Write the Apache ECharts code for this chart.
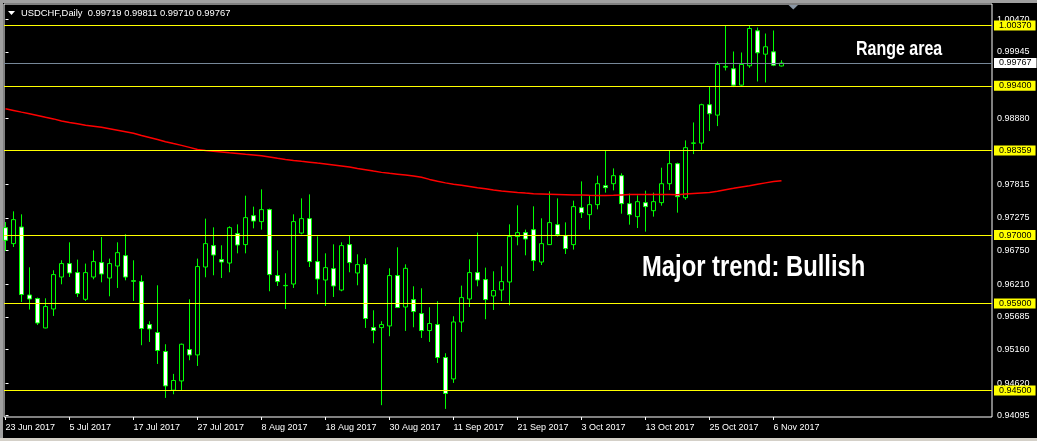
<!DOCTYPE html>
<html><head><meta charset="utf-8">
<script src="https://cdn.jsdelivr.net/npm/echarts@6/dist/echarts.min.js"></script>
<style>html,body{margin:0;padding:0;background:#000;overflow:hidden}#c{width:1037px;height:441px}</style>
</head><body><div id="c"></div>
<script>
// ---- data ----
const xTickIndex = [0, 8, 16, 24, 32, 40, 48, 56, 64, 72, 80, 88, 96];
const xTickLabels = ['23 Jun 2017','5 Jul 2017','17 Jul 2017','27 Jul 2017','8 Aug 2017','18 Aug 2017','30 Aug 2017','11 Sep 2017','21 Sep 2017','3 Oct 2017','13 Oct 2017','25 Oct 2017','6 Nov 2017'];
const yTickValues = [1.00470, 0.99945, 0.98880, 0.97815, 0.97275, 0.96750, 0.96210, 0.95685, 0.95160, 0.94620, 0.94095];
const levels = [1.00370, 0.99400, 0.98359, 0.97000, 0.95900, 0.94500];
const bidPrice = 0.99767;
const titleText = 'USDCHF,Daily  0.99719 0.99811 0.99710 0.99767';

const opens = [0.97119,0.96862,0.97129,0.96036,0.95978,0.95506,0.95811,0.96325,0.96541,0.96396,
0.95967,0.96325,0.96557,0.96309,0.96502,0.96669,0.96265,0.96251,0.95560,0.95432,
0.95127,0.94505,0.94654,0.95159,0.95072,0.96486,0.96830,0.96605,0.96550,0.97023,
0.96846,0.97312,0.97216,0.97409,0.96348,0.96190,0.96213,0.97032,0.97264,0.96573,
0.96277,0.96460,0.96116,0.96846,0.96390,0.96525,0.95512,0.95512,0.95538,0.96348,
0.95843,0.95962,0.95737,0.95464,0.95560,0.95030,0.94686,0.95602,0.95972,0.96396,
0.96284,0.96020,0.96116,0.96245,0.96975,0.97039,0.97087,0.96566,0.96846,0.97167,
0.96991,0.96846,0.97441,0.97328,0.97489,0.97794,0.97826,0.97955,0.97505,0.97296,
0.97521,0.97392,0.97521,0.97826,0.98148,0.97601,0.98475,0.98479,0.99096,0.98929,
0.99700,0.99674,0.99411,0.99722,1.00285,0.99909,0.99947,0.99719];
const closes = [0.96915,0.97248,0.96043,0.95972,0.95586,0.95850,0.96364,0.96541,0.96390,0.96059,
0.96396,0.96573,0.96374,0.96541,0.96717,0.96325,0.96258,0.95496,0.95490,0.95143,
0.94574,0.94661,0.95244,0.95072,0.96493,0.96862,0.96679,0.96566,0.97119,0.96840,
0.97280,0.97225,0.97409,0.96364,0.96251,0.96185,0.97216,0.97264,0.96573,0.96293,
0.96476,0.96181,0.96830,0.96557,0.96525,0.95657,0.95464,0.95560,0.96348,0.95834,
0.96465,0.95769,0.95464,0.95577,0.95030,0.94452,0.95602,0.95994,0.96396,0.96277,
0.95962,0.96107,0.96251,0.96975,0.97039,0.96936,0.96589,0.96862,0.97200,0.97007,
0.96782,0.97457,0.97360,0.97489,0.97826,0.97762,0.97955,0.97505,0.97328,0.97537,
0.97457,0.97537,0.97826,0.98148,0.97617,0.98405,0.98482,0.99096,0.98951,0.99743,
0.99712,0.99411,0.99743,1.00322,0.99931,1.00028,0.99732,0.99767];
const lows = [0.96743,0.96808,0.95924,0.95802,0.95554,0.95500,0.95699,0.96208,0.96325,0.96004,
0.95940,0.96288,0.96240,0.96015,0.96149,0.96272,0.95940,0.95228,0.95281,0.94927,
0.94381,0.94440,0.94494,0.94987,0.94895,0.96321,0.96353,0.96309,0.96401,0.96706,
0.96706,0.97108,0.97087,0.96096,0.96181,0.95811,0.96149,0.97012,0.96486,0.96047,
0.95859,0.96004,0.96096,0.96401,0.96192,0.95506,0.95260,0.94264,0.95373,0.95827,
0.95458,0.95517,0.95345,0.95281,0.94943,0.94204,0.94622,0.95442,0.95843,0.96176,
0.95646,0.95795,0.95940,0.95871,0.96835,0.96674,0.96422,0.96518,0.96840,0.96975,
0.96695,0.96766,0.97274,0.97087,0.97413,0.97682,0.97719,0.97344,0.97167,0.97113,
0.97055,0.97296,0.97473,0.97723,0.97360,0.97569,0.98302,0.98361,0.98672,0.98752,
0.99647,0.99379,0.99401,0.99690,0.99470,0.99454,0.99716,0.99710];
const highs = [0.97209,0.97381,0.97333,0.96481,0.95994,0.95983,0.96433,0.96594,0.96883,0.96605,
0.96541,0.96754,0.96968,0.96621,0.96883,0.97012,0.96594,0.96353,0.95614,0.96192,
0.95244,0.94767,0.95255,0.95967,0.96621,0.97264,0.97124,0.96835,0.97140,0.97172,
0.97633,0.97457,0.97735,0.97425,0.96754,0.96385,0.97333,0.97590,0.97654,0.96979,
0.96706,0.96851,0.96883,0.96984,0.96690,0.96626,0.95790,0.95614,0.96465,0.96803,
0.96529,0.96176,0.96144,0.95839,0.95935,0.95099,0.95694,0.96187,0.96610,0.97039,
0.96476,0.96417,0.96497,0.97172,0.97478,0.97087,0.97462,0.97269,0.97703,0.97590,
0.97204,0.97553,0.97863,0.97627,0.97955,0.98361,0.98072,0.97992,0.97666,0.97638,
0.97714,0.97682,0.98083,0.98361,0.98164,0.98522,0.98811,0.99112,0.99390,0.99787,
1.00370,0.99952,0.99936,1.00370,1.00338,1.00241,1.00290,0.99811];
const movingAvg = [0.99031,0.99004,0.98977,0.98951,0.98924,0.98895,0.98868,0.98835,0.98811,0.98790,
0.98766,0.98750,0.98733,0.98710,0.98686,0.98662,0.98638,0.98602,0.98570,0.98538,
0.98501,0.98471,0.98442,0.98410,0.98377,0.98361,0.98349,0.98337,0.98324,0.98313,
0.98300,0.98288,0.98275,0.98257,0.98234,0.98214,0.98199,0.98185,0.98172,0.98157,
0.98143,0.98127,0.98111,0.98095,0.98072,0.98051,0.98029,0.98008,0.97992,0.97979,
0.97965,0.97950,0.97928,0.97895,0.97866,0.97839,0.97818,0.97799,0.97780,0.97760,
0.97743,0.97725,0.97709,0.97698,0.97686,0.97675,0.97666,0.97662,0.97658,0.97654,
0.97650,0.97646,0.97645,0.97641,0.97638,0.97638,0.97641,0.97646,0.97651,0.97654,
0.97654,0.97654,0.97654,0.97654,0.97650,0.97661,0.97670,0.97678,0.97686,0.97706,
0.97730,0.97751,0.97773,0.97792,0.97818,0.97839,0.97860,0.97875];

// ---- build ----
const candles = opens.map((o, i) => [i, o, closes[i], lows[i], highs[i]]);
const maData = movingAvg.map((v, i) => [i, v]);
const FONT = '"Liberation Sans", Arial, sans-serif';

const chart = echarts.init(document.getElementById('c'), null, {renderer: 'canvas'});
chart.setOption({
  backgroundColor: '#000',
  animation: false,
  grid: {left: 4, top: 4, right: 45, bottom: 24, show: true, borderColor: '#fff', borderWidth: 1,
         backgroundColor: '#000', containLabel: false, outerBoundsMode: 'none'},
  xAxis: {
    type: 'value', min: -0.1875, max: 123.3125,
    axisLine: {show: false}, splitLine: {show: false},
    axisTick: {show: true, length: 3, lineStyle: {color: '#fff'}, customValues: xTickIndex},
    axisLabel: {show: true, customValues: xTickIndex, color: '#fff', fontSize: 9, fontFamily: FONT,
      align: 'left', margin: 6,
      formatter: v => xTickLabels[xTickIndex.indexOf(Math.round(v))] || ''}
  },
  yAxis: {
    type: 'value', position: 'right', min: 0.9407383, max: 1.0071577, scale: true,
    axisLine: {show: false}, splitLine: {show: false},
    axisTick: {show: true, length: 3, lineStyle: {color: '#fff'}, customValues: yTickValues},
    axisLabel: {show: true, customValues: yTickValues, color: '#fff', fontSize: 9, fontFamily: FONT,
      margin: 5, formatter: v => v.toFixed(5)}
  },
  series: [
    {
      type: 'candlestick', data: candles, barWidth: 4, silent: true, z: 2,
      itemStyle: {color: '#000', color0: '#fff', borderColor: '#00ff00', borderColor0: '#00ff00', borderWidth: 1},
      markLine: {
        silent: true, symbol: ['none', 'none'], animation: false, precision: 5,
        lineStyle: {color: '#ffff00', width: 1, type: 'solid', opacity: 1},
        label: {show: true, position: 'end', distance: 2, formatter: p => Number(p.value).toFixed(5),
          color: '#000', backgroundColor: '#ffff00', fontSize: 9, fontFamily: FONT,
          padding: [1, 4, 0, 5], lineHeight: 9},
        emphasis: {disabled: true},
        data: levels.map(v => ({yAxis: v}))
      }
    },
    {
      type: 'line', data: maData, symbol: 'none', showSymbol: false, silent: true, z: 3,
      lineStyle: {color: '#ff0000', width: 1.5},
      markLine: {
        silent: true, symbol: ['none', 'none'], animation: false, precision: 5,
        lineStyle: {color: '#778899', width: 1, type: 'solid', opacity: 1},
        label: {show: true, position: 'end', distance: 2, formatter: p => Number(p.value).toFixed(5),
          color: '#000', backgroundColor: '#ffffff', fontSize: 9, fontFamily: FONT,
          padding: [1, 5, 0, 5], lineHeight: 9},
        emphasis: {disabled: true},
        data: [{yAxis: bidPrice}]
      }
    }
  ],
  graphic: [
    {type: 'rect', shape: {x: 0, y: 0, width: 1037, height: 3}, style: {fill: '#a0a0a0'}, silent: true},
    {type: 'rect', shape: {x: 0, y: 0, width: 3, height: 441}, style: {fill: '#a0a0a0'}, silent: true},
    {type: 'rect', shape: {x: 0, y: 438, width: 1037, height: 3}, style: {fill: '#d4d0c8'}, silent: true},
    {type: 'polygon', shape: {points: [[8, 11], [15, 11], [11.5, 15]]}, style: {fill: '#fff'}, silent: true},
    {type: 'text', x: 21, y: 13.5, silent: true,
      style: {text: titleText, fill: '#fff', font: '9.4px ' + FONT, verticalAlign: 'middle'}},
    {type: 'polygon', shape: {points: [[788.5, 5], [798, 5], [793.3, 9.5]]}, style: {fill: '#8a96a4'}, silent: true},
    {type: 'text', x: 856, y: 50, scaleX: 0.82, silent: true,
      style: {text: 'Range area', fill: '#fff', font: 'bold 19.5px ' + FONT, verticalAlign: 'middle'}},
    {type: 'text', x: 642, y: 268, scaleX: 0.82, silent: true,
      style: {text: 'Major trend: Bullish', fill: '#fff', font: 'bold 29px ' + FONT, verticalAlign: 'middle'}}
  ]
});
</script></body></html>
